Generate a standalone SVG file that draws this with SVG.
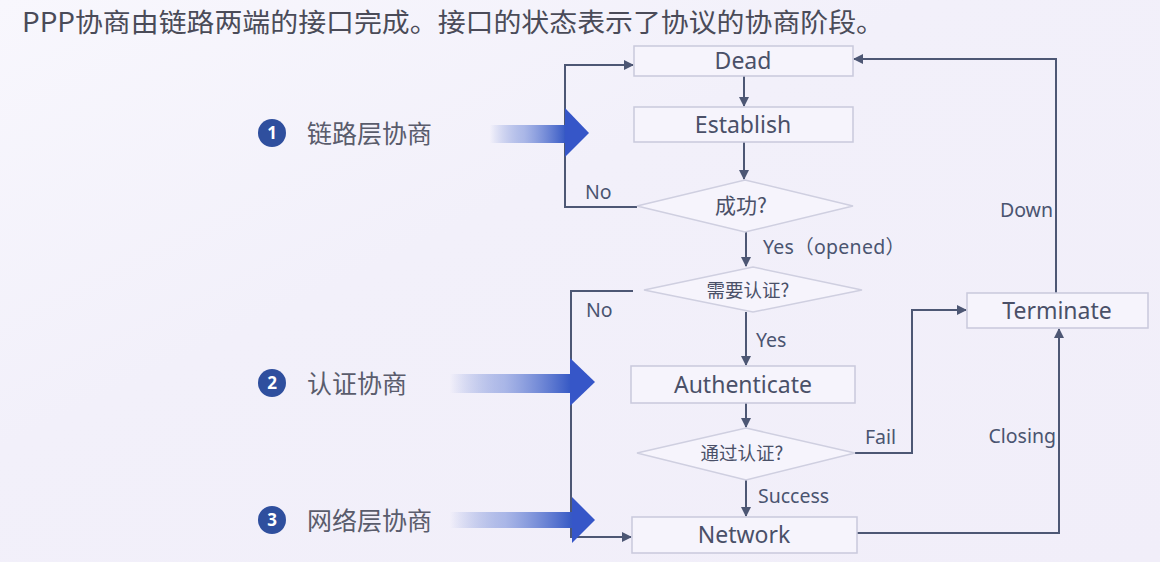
<svg xmlns="http://www.w3.org/2000/svg" width="1160" height="562" viewBox="0 0 1160 562">
<defs>
<style>
.box{fill:#f6f4fc;stroke:#c9c9dc;stroke-width:1.5}
.dia{fill:#f6f4fc;stroke:#cfcfe0;stroke-width:1.5}
.bt{font-family:"Noto Sans","Noto Sans CJK SC",sans-serif;font-size:23px;fill:#4a5068;text-anchor:middle}
.dt{font-family:"Noto Sans CJK SC","Noto Sans",sans-serif;font-size:18.5px;fill:#4a5068;text-anchor:middle}
.lb{font-family:"Noto Sans","Noto Sans CJK SC",sans-serif;font-size:19.5px;fill:#4a5470}
.cn{fill:none;stroke:#4d5774;stroke-width:2}
.st{font-family:"Noto Sans CJK SC","Noto Sans",sans-serif;font-size:25px;fill:#5a5c6c}
.num{font-family:"Noto Sans",sans-serif;font-size:17px;font-weight:bold;fill:#ffffff;text-anchor:middle}
</style>
<marker id="ah" viewBox="0 0 10 10" refX="9" refY="5" markerWidth="5" markerHeight="5" orient="auto" markerUnits="strokeWidth">
<path d="M0,0 L10,5 L0,10 z" fill="#4d5774"/>
</marker>
<linearGradient id="sg" x1="0" y1="0" x2="1" y2="0">
<stop offset="0" stop-color="#3558c4" stop-opacity="0"/>
<stop offset="0.45" stop-color="#6f88d8" stop-opacity="0.55"/>
<stop offset="1" stop-color="#3558c4"/>
</linearGradient>
<linearGradient id="bg" x1="0" y1="0" x2="1" y2="1">
<stop offset="0" stop-color="#f8f7fd"/>
<stop offset="0.4" stop-color="#f2f0fa"/>
<stop offset="1" stop-color="#f1eef9"/>
</linearGradient>
</defs>
<rect width="1160" height="562" fill="url(#bg)"/>
<text x="22" y="32" font-family="Noto Sans CJK SC, Noto Sans, sans-serif" font-size="26.5" fill="#4a4b58" textLength="862" lengthAdjust="spacingAndGlyphs">PPP协商由链路两端的接口完成。接口的状态表示了协议的协商阶段。</text>

<g id="connectors">
<line class="cn" x1="744" y1="76" x2="744" y2="106" marker-end="url(#ah)"/>
<line class="cn" x1="744" y1="142" x2="744" y2="179" marker-end="url(#ah)"/>
<polyline class="cn" points="637,207 565,207 565,65 633,65" marker-end="url(#ah)"/>
<line class="cn" x1="746" y1="232" x2="746" y2="266" marker-end="url(#ah)"/>
<polyline class="cn" points="633,291 571,291 571,537 631,537" marker-end="url(#ah)"/>
<line class="cn" x1="746" y1="312" x2="746" y2="365" marker-end="url(#ah)"/>
<line class="cn" x1="746" y1="403" x2="746" y2="427" marker-end="url(#ah)"/>
<polyline class="cn" points="855,453 912,453 912,310 966,310" marker-end="url(#ah)"/>
<line class="cn" x1="746" y1="480" x2="746" y2="516" marker-end="url(#ah)"/>
<polyline class="cn" points="857,533 1059,533 1059,329" marker-end="url(#ah)"/>
<polyline class="cn" points="1056,293 1056,59 854,59" marker-end="url(#ah)"/>
<text class="lb" x="585" y="199">No</text>
<text class="lb" x="763" y="254" textLength="142" lengthAdjust="spacing">Yes（opened）</text>
<text class="lb" x="586" y="317">No</text>
<text class="lb" x="756" y="347">Yes</text>
<text class="lb" x="865" y="444">Fail</text>
<text class="lb" x="758" y="503">Success</text>
<text class="lb" x="1053" y="217" text-anchor="end">Down</text>
<text class="lb" x="1056" y="443" text-anchor="end">Closing</text>
</g>

<g id="dead"><rect class="box" x="634" y="46" width="219" height="30"/><text class="bt" x="743" y="69">Dead</text></g>
<g id="establish"><rect class="box" x="634" y="107" width="219" height="35"/><text class="bt" x="743" y="133">Establish</text></g>
<g id="success-q"><polygon class="dia" points="637,206 745,180 853,206 745,232"/><text class="dt" x="741" y="213" style="font-size:21px">成功?</text></g>
<g id="auth-q"><polygon class="dia" points="644,290 753,267 862,290 753,312"/><text class="dt" x="748" y="297">需要认证?</text></g>
<g id="authenticate"><rect class="box" x="631" y="366" width="224" height="37"/><text class="bt" x="743" y="393">Authenticate</text></g>
<g id="pass-q"><polygon class="dia" points="637,453 746,428 855,453 746,480"/><text class="dt" x="742" y="460">通过认证?</text></g>
<g id="network"><rect class="box" x="632" y="517" width="225" height="36"/><text class="bt" x="744" y="543">Network</text></g>
<g id="terminate"><rect class="box" x="967" y="293" width="181" height="35"/><text class="bt" x="1057" y="319">Terminate</text></g>

<g id="stage1">
<rect x="490" y="125" width="76" height="18" fill="url(#sg)"/>
<polygon points="565,108 589,133 565,157" fill="#3656c8"/>
<circle cx="272" cy="133" r="14" fill="#2f4f9e"/>
<text class="num" x="272" y="139">1</text>
<text class="st" x="307" y="143">链路层协商</text>
</g>
<g id="stage2">
<rect x="450" y="374" width="121" height="19" fill="url(#sg)"/>
<polygon points="570,358 595,382 570,406" fill="#3656c8"/>
<circle cx="272" cy="383" r="14" fill="#2f4f9e"/>
<text class="num" x="272" y="389">2</text>
<text class="st" x="307" y="393">认证协商</text>
</g>
<g id="stage3">
<rect x="450" y="512" width="123" height="16" fill="url(#sg)"/>
<polygon points="572,497 595,520 572,543" fill="#3656c8"/>
<circle cx="272" cy="520" r="14" fill="#2f4f9e"/>
<text class="num" x="272" y="526">3</text>
<text class="st" x="307" y="530">网络层协商</text>
</g>
</svg>
